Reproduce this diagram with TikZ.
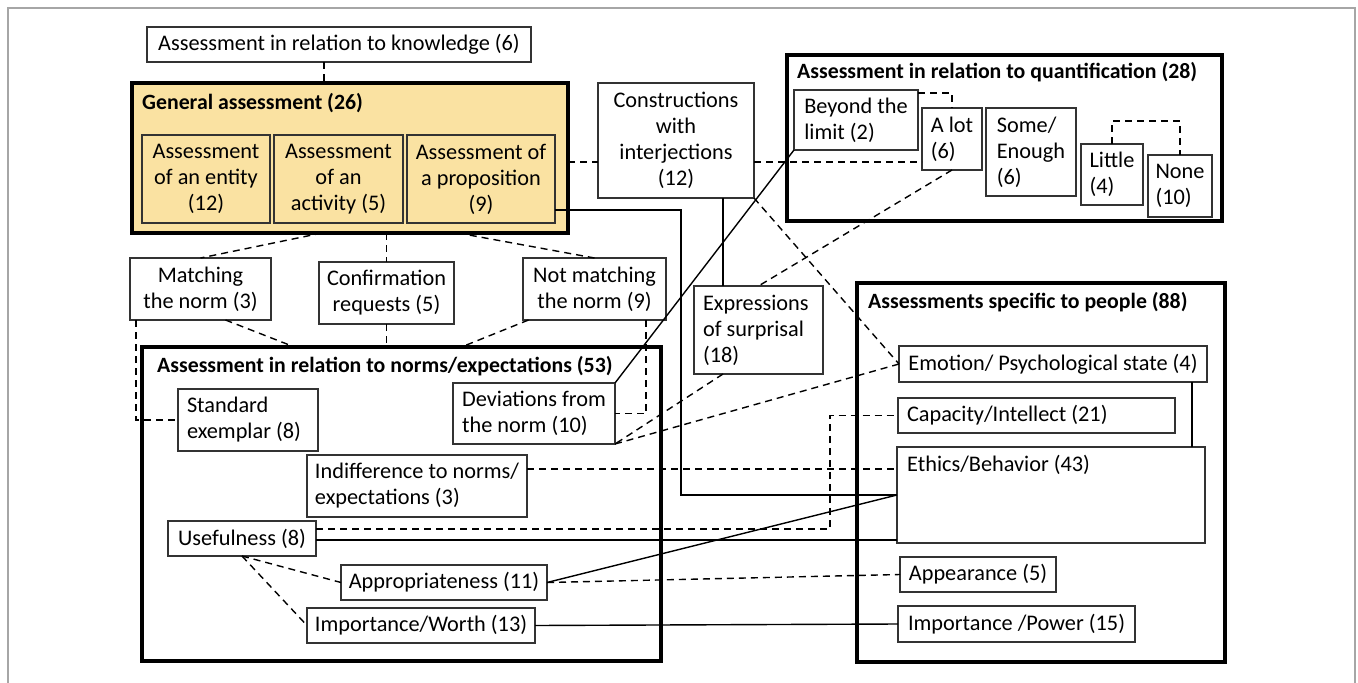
\documentclass[tikz,border=0pt]{standalone}
\usepackage{fontspec}
\setmainfont{Carlito}
\usetikzlibrary{calc}
\definecolor{gold}{RGB}{250,226,162}
\newcommand{\myfs}{\fontsize{22.3}{26}\selectfont}
\newcommand{\mybfs}{\fontsize{21.8}{26}\selectfont\bfseries}
\begin{document}
\begin{tikzpicture}[x=1pt,y=-1pt,
  bx/.style={draw=black!80, line width=1.2pt, fill=white, inner sep=0pt, outer sep=0pt, anchor=north west, font=\myfs, align=center},
  lbx/.style={bx, align=left},
  fbx/.style={bx, align=flush left, inner xsep=9pt},
  grp/.style={draw=black, line width=4.8pt, inner sep=0pt, outer sep=0pt, anchor=north west},
  ttl/.style={font=\mybfs, anchor=west, inner sep=0pt},
  ln/.style={line width=1.4pt},
  dsh/.style={line width=1.4pt, dash pattern=on 7pt off 5pt}]
\useasboundingbox (0,0) rectangle (1358,683);
\draw[gray!70, line width=1.5pt] (8,683) -- (8,8) -- (1355,8) -- (1355,683);

% group frames
\node[grp, fill=gold, minimum width=436pt, minimum height=150pt] (gen) at (132,83) {};
\node[grp, minimum width=435pt, minimum height=166pt] (quant) at (787,55) {};
\node[grp, minimum width=519pt, minimum height=314pt] (norms) at (142,347) {};
\node[grp, minimum width=368pt, minimum height=379pt] (people) at (857,283) {};
\node[ttl] (gent) at (142,103) {General assessment (26)};
\node[ttl] (quantt) at (797,72) {Assessment in relation to quantification (28)};
\node[ttl] (normst) at (157,366) {Assessment in relation to norms/expectations (53)};
\node[ttl] (peoplet) at (868,302) {Assessments specific to people (88)};

% boxes
\node[bx, minimum width=384pt, minimum height=35pt] (know) at (147,27) {Assessment in relation to knowledge (6)};
\node[bx, fill=gold, minimum width=128pt, minimum height=88pt] (ent) at (142,135) {Assessment\\of an entity\\(12)};
\node[bx, fill=gold, minimum width=129pt, minimum height=88pt] (act) at (274,135) {Assessment\\of an\\activity (5)};
\node[bx, fill=gold, minimum width=148pt, minimum height=88pt] (prop) at (407,135) {Assessment of\\a proposition\\(9)};
\node[bx, minimum width=156pt, minimum height=115pt] (interj) at (598,83) {Constructions\\with\\interjections\\(12)};
\node[lbx, minimum width=124pt, minimum height=60pt] (beyond) at (794,90) {Beyond the\\limit (2)};
\node[lbx, minimum width=60pt, minimum height=62pt] (alot) at (922,108) {A lot\\(6)};
\node[lbx, minimum width=90pt, minimum height=88pt] (some) at (986,108) {Some/\\Enough\\(6)};
\node[lbx, minimum width=62pt, minimum height=61pt] (little) at (1081,144) {Little\\(4)};
\node[lbx, minimum width=64pt, minimum height=62pt] (none) at (1148,155) {None\\(10)};
\node[bx, minimum width=141pt, minimum height=62pt] (match) at (130,258) {Matching\\the norm (3)};
\node[bx, minimum width=135pt, minimum height=62pt] (conf) at (319,262) {Confirmation\\requests (5)};
\node[bx, minimum width=143pt, minimum height=62pt] (notm) at (523,258) {Not matching\\the norm (9)};
\node[fbx, text width=122pt, minimum height=62pt] (std) at (178,389) {Standard\\exemplar (8)};
\node[lbx, minimum width=162pt, minimum height=61pt] (dev) at (453,383) {Deviations from\\the norm (10)};
\node[lbx, minimum width=220pt, minimum height=62pt] (indiff) at (307,455) {Indifference to norms/\\expectations (3)};
\node[bx, minimum width=148pt, minimum height=35pt] (useful) at (168,521) {Usefulness (8)};
\node[bx, minimum width=206pt, minimum height=35pt] (approp) at (341,565) {Appropriateness (11)};
\node[bx, minimum width=228pt, minimum height=35pt] (impw) at (307,608) {Importance/Worth (13)};
\node[fbx, text width=111pt, minimum height=88pt] (exp) at (694,286) {Expressions\\of surprisal\\(18)};
\node[bx, minimum width=308pt, minimum height=36pt] (emo) at (899,346) {Emotion/ Psychological state (4)};
\node[fbx, text width=259pt, minimum height=35pt] (cap) at (898,398) {Capacity/Intellect (21)};
\node[bx, minimum width=308pt, minimum height=96pt] (eth) at (897,447) {};
\node[font=\myfs, anchor=west, inner sep=0pt] (etht) at ([xshift=10pt,yshift=-18pt]eth.north west) {Ethics/Behavior (43)};
\node[bx, minimum width=156pt, minimum height=35pt] (appear) at (900,557) {Appearance (5)};
\node[bx, minimum width=237pt, minimum height=36pt] (impp) at (898,606) {Importance /Power (15)};

% helper coordinates
\coordinate (hy) at (0,162);
\coordinate (c1) at (681,210);
\coordinate (c2) at (681,495);
\coordinate (v1) at (723,0);
\coordinate (v2) at (646,0);
\coordinate (v3) at (136,0);
\coordinate (v4) at (830,0);
\coordinate (hy2) at (0,469);
\coordinate (hy3) at (0,529);
\coordinate (hy4) at (0,540);
\coordinate (hy5) at (0,121);

% connectors
\draw[dsh] ([xshift=-15pt]know.south) -- ([xshift=-15pt]know.south |- gen.north);
\draw[dsh] (gen.east |- hy) -- (interj.west |- hy);
\draw[dsh] (interj.east |- hy) -- (alot.west |- hy);
\draw[ln] (prop.east |- c1) -- (c1) -- (c2) -- (eth.west |- c2);
\draw[ln] (interj.south -| v1) -- (exp.north -| v1);
\draw[dsh] (interj.south east) -- (emo.west);
\draw[dsh] (alot.south) -- (exp.north);
\draw[dsh] (exp.south -| v1) -- (dev.south east);
\draw[dsh] (dev.south east) -- (emo.west);
\draw[ln] (dev.north east) -- (beyond.south west);
\draw[dsh] ([yshift=-3pt]beyond.north east) -| (alot.north);
\draw[dsh] (little.north) |- (none.north |- hy5) -- (none.north);
\draw[dsh] ([xshift=-28pt]gen.south) -- (match.north);
\draw[dsh] (gen.south -| conf.north) -- (conf.north);
\draw[dsh] ([xshift=108pt]gen.south) -- (notm.north);
\draw[dsh] ([xshift=25pt]match.south) -- ([xshift=-107pt]norms.north);
\draw[dsh] (conf.south) -- (norms.north -| conf.south);
\draw[dsh] ([xshift=-66pt]notm.south) -- ([xshift=60pt]norms.north);
\draw[dsh] (match.south -| v3) |- (std.west);
\draw[dsh] (notm.south -| v2) |- (dev.east);
\draw[dsh] (indiff.east |- hy2) -- (eth.west |- hy2);
\draw[dsh] (useful.east |- hy3) -| (v4 |- cap.west) -- (cap.west);
\draw[ln] (useful.east |- hy4) -- (eth.west |- hy4);
\draw[ln] (approp.east) -- (eth.west |- c2);
\draw[dsh] (approp.east) -- (appear.west);
\draw[ln] (impw.east) -- (impp.west);
\draw[dsh] (useful.south) -- (approp.west);
\draw[dsh] (useful.south) -- (impw.west);
\draw[ln] ([xshift=-15pt]emo.south east) -- ([xshift=-15pt]emo.south east |- eth.north);
\end{tikzpicture}
\end{document}
